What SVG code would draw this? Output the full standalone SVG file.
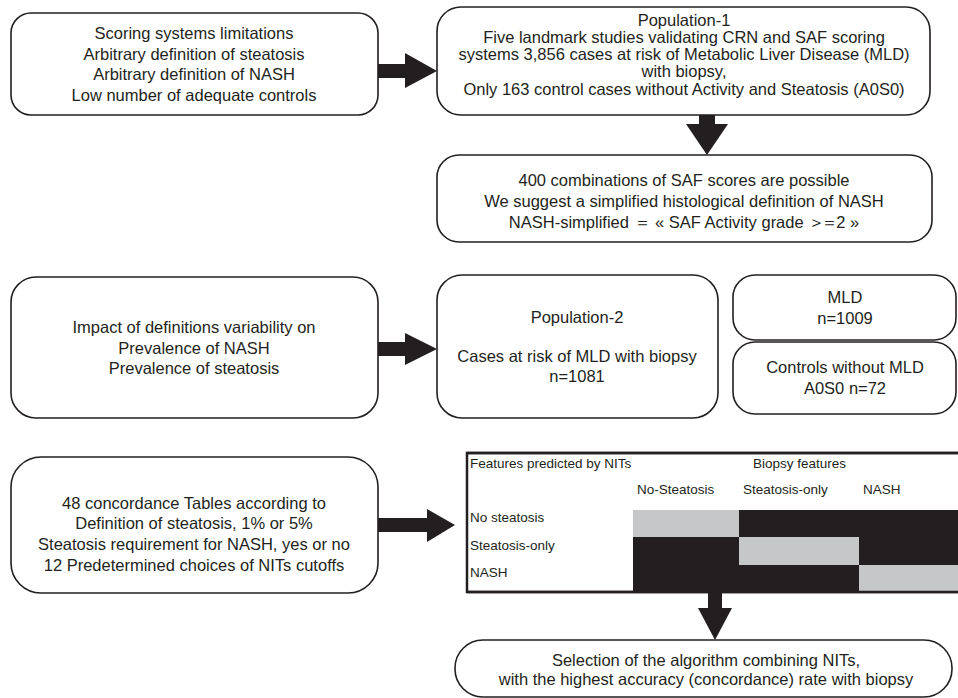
<svg xmlns="http://www.w3.org/2000/svg" width="958" height="698" viewBox="0 0 958 698">
<style>
.box{fill:#fff;stroke:#231f20;stroke-width:1.6}
.t{font-family:"Liberation Sans",Arial,sans-serif;font-size:16.5px;fill:#231f20;text-anchor:middle}
.s{font-family:"Liberation Sans",Arial,sans-serif;font-size:13.5px;fill:#231f20}
.arr{fill:#231f20}
.g{fill:#c6c7c8}
.k{fill:#231f20}
</style>
<rect width="958" height="698" fill="#fff"/>
<g id="connectors">
<polygon class="arr" points="378,64 405,64 405,53 437,71 405,88 405,78 378,78"/>
<polygon class="arr" points="699,115 715,115 715,124 728,124 707,155 686,124 699,124"/>
<polygon class="arr" points="378,342 405,342 405,333 437,349 405,365 405,356 378,356"/>
<polygon class="arr" points="378,518 427,518 427,509 455,525 427,542 427,532 378,532"/>
<polygon class="arr" points="708,592 722,592 722,608 732,608 715,640 698,608 708,608"/>
</g>
<g id="n1">
<rect class="box" x="11" y="13" width="367" height="102" rx="20"/>
<text class="t" x="194" y="39">Scoring systems limitations</text>
<text class="t" x="194" y="60">Arbitrary definition of steatosis</text>
<text class="t" x="194" y="80">Arbitrary definition of NASH</text>
<text class="t" x="194" y="101">Low number of adequate controls</text>
</g>
<g id="n2">
<rect class="box" x="437" y="7" width="493" height="108" rx="24"/>
<text class="t" x="684" y="26">Population-1</text>
<text class="t" x="684" y="43">Five landmark studies validating CRN and SAF scoring</text>
<text class="t" x="684" y="60">systems 3,856 cases at risk of Metabolic Liver Disease (MLD)</text>
<text class="t" x="684" y="77">with biopsy,</text>
<text class="t" x="684" y="95">Only 163 control cases without Activity and Steatosis (A0S0)</text>
</g>
<g id="n3">
<rect class="box" x="437" y="155" width="495" height="87" rx="22"/>
<text class="t" x="684" y="186">400 combinations of SAF scores are possible</text>
<text class="t" x="684" y="207">We suggest a simplified histological definition of NASH</text>
<text class="t" x="684" y="228">NASH-simplified ＝ « SAF Activity grade <tspan letter-spacing="-4">＞＝</tspan><tspan dx="2">2 »</tspan></text>
</g>
<g id="n4">
<rect class="box" x="11" y="277" width="367" height="141" rx="25"/>
<text class="t" x="194" y="333">Impact of definitions variability on</text>
<text class="t" x="194" y="354">Prevalence of NASH</text>
<text class="t" x="194" y="374">Prevalence of steatosis</text>
</g>
<g id="n5">
<rect class="box" x="437" y="275" width="281" height="143" rx="25"/>
<text class="t" x="577" y="323">Population-2</text>
<text class="t" x="577" y="362">Cases at risk of MLD with biopsy</text>
<text class="t" x="577" y="382">n=1081</text>
</g>
<g id="n6">
<rect class="box" x="733" y="275" width="223" height="65" rx="22"/>
<text class="t" x="845" y="303">MLD</text>
<text class="t" x="845" y="324">n=1009</text>
</g>
<g id="n7">
<rect class="box" x="733" y="342" width="223" height="72" rx="22"/>
<text class="t" x="845" y="373">Controls without MLD</text>
<text class="t" x="845" y="394">A0S0 n=72</text>
</g>
<g id="n8">
<rect class="box" x="11" y="457" width="367" height="136" rx="30"/>
<text class="t" x="194" y="509">48 concordance Tables according to</text>
<text class="t" x="194" y="529">Definition of steatosis, 1% or 5%</text>
<text class="t" x="194" y="550">Steatosis requirement for NASH, yes or no</text>
<text class="t" x="194" y="571">12 Predetermined choices of NITs cutoffs</text>
</g>
<g id="table">
<rect x="467" y="453" width="500" height="139" fill="#fff" stroke="#231f20" stroke-width="2.5"/>
<rect class="g" x="633" y="510" width="106" height="27"/>
<rect class="k" x="739" y="510" width="220" height="27"/>
<rect class="k" x="633" y="537" width="106" height="28"/>
<rect class="g" x="739" y="537" width="120" height="28"/>
<rect class="k" x="859" y="537" width="100" height="28"/>
<rect class="k" x="633" y="565" width="226" height="27"/>
<rect class="g" x="859" y="565" width="100" height="27"/>
<line x1="467" y1="453" x2="958" y2="453" stroke="#231f20" stroke-width="2.5"/>
<line x1="467" y1="592" x2="958" y2="592" stroke="#231f20" stroke-width="2.5"/>
<text class="s" x="470" y="468">Features predicted by NITs</text>
<text class="s" x="753" y="468">Biopsy features</text>
<text class="s" x="637" y="494">No-Steatosis</text>
<text class="s" x="743" y="494">Steatosis-only</text>
<text class="s" x="863" y="494">NASH</text>
<text class="s" x="470" y="522">No steatosis</text>
<text class="s" x="470" y="550">Steatosis-only</text>
<text class="s" x="470" y="577">NASH</text>
</g>
<g id="n9">
<rect class="box" x="455" y="640" width="497" height="57" rx="28"/>
<text class="t" x="706" y="666">Selection of the algorithm combining NITs,</text>
<text class="t" x="706" y="685">with the highest accuracy (concordance) rate with biopsy</text>
</g>
</svg>
